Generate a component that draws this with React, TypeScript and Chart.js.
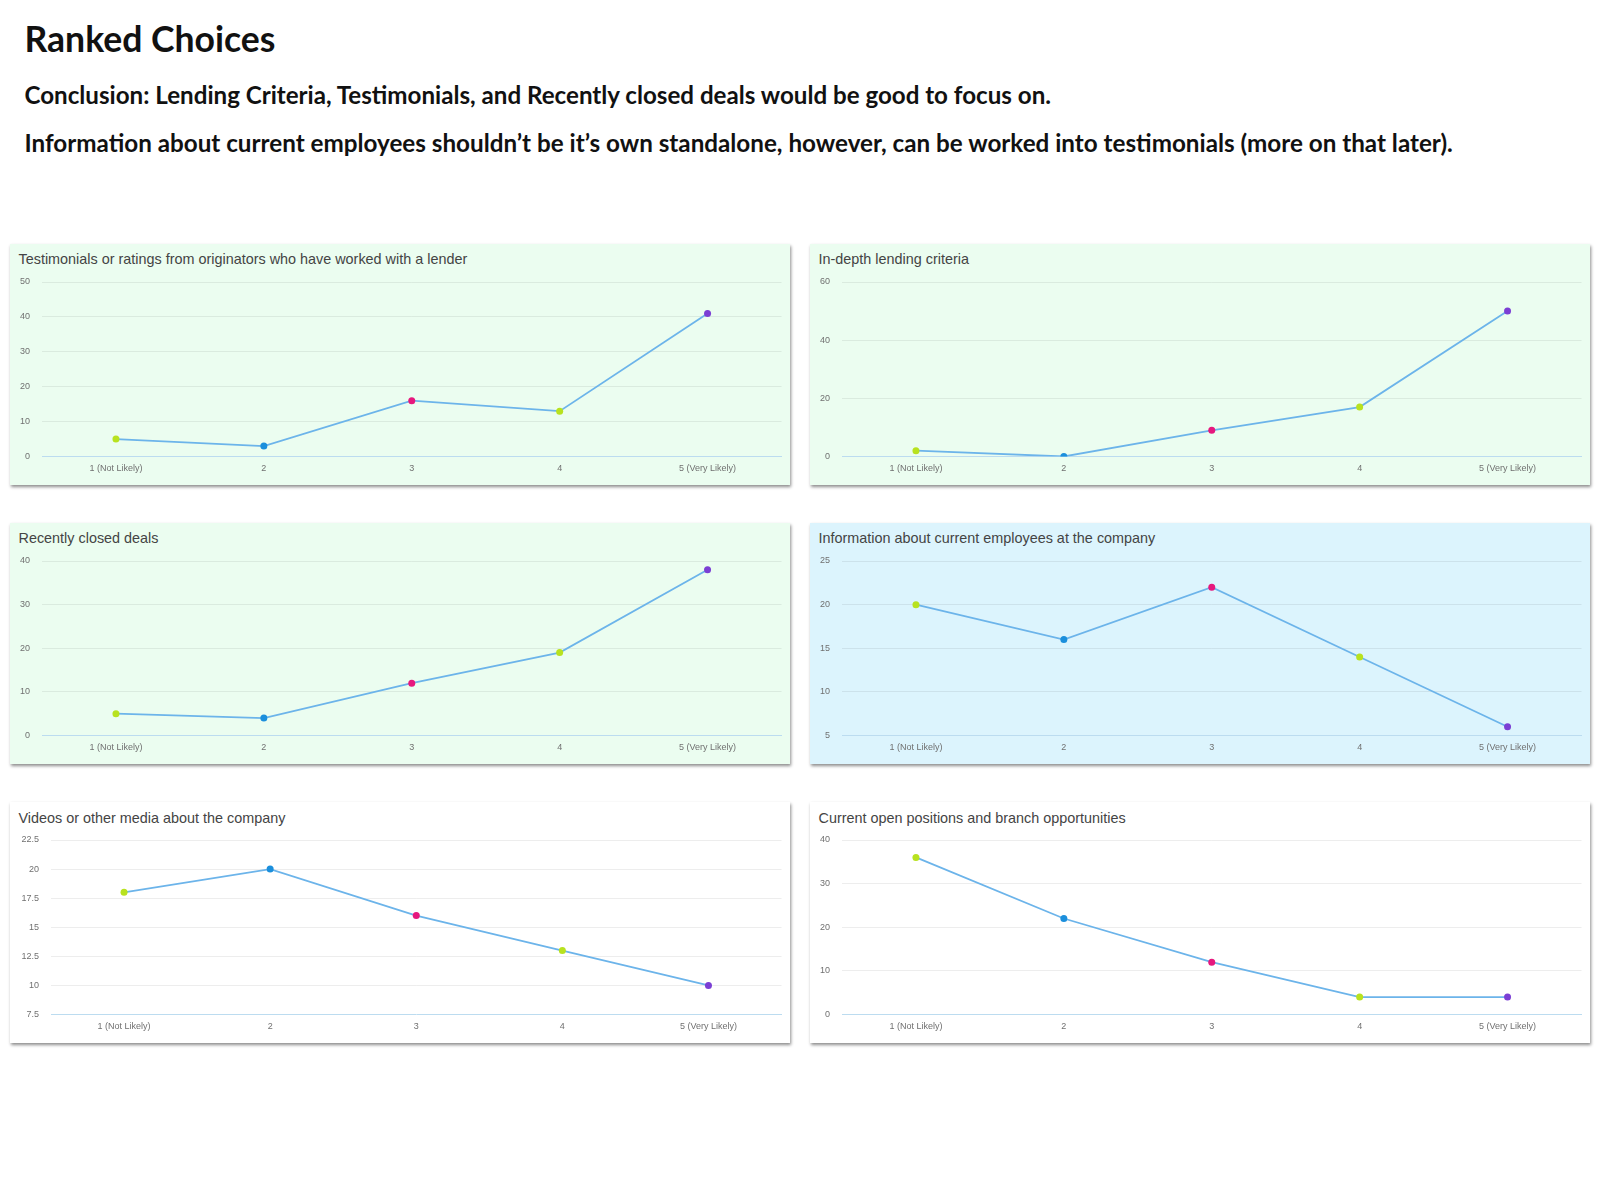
import React, { useEffect, useLayoutEffect, useRef, useState } from "react";
import { Chart, registerables } from "chart.js";

Chart.register(...registerables);

// ---- Data ----
const CATEGORIES = ["1 (Not Likely)", "2", "3", "4", "5 (Very Likely)"];
const POINT_COLORS = ["#b8e21f", "#1b8fdc", "#e6187e", "#b8e21f", "#7b3fd4"];

const PAGE_TITLE = "Ranked Choices";
const CONCLUSION_LINE = "Conclusion: Lending Criteria, Testimonials, and Recently closed deals would be good to focus on.";
const NOTE_LINE = "Information about current employees shouldn’t be it’s own standalone, however, can be worked into testimonials (more on that later).";

const CHART_TITLES = [
  "Testimonials or ratings from originators who have worked with a lender",
  "In-depth lending criteria",
  "Recently closed deals",
  "Information about current employees at the company",
  "Videos or other media about the company",
  "Current open positions and branch opportunities",
];

const testimonialsValues = [5, 3, 16, 13, 41];
const lendingCriteriaValues = [2, 0, 9, 17, 50];
const closedDealsValues = [5, 4, 12, 19, 38];
const employeesValues = [20, 16, 22, 14, 6];
const videosValues = [18, 20, 16, 13, 10];
const openPositionsValues = [36, 22, 12, 4, 4];

const Y_MINS = [0, 0, 0, 5, 7.5, 0];
const Y_MAXS = [50, 60, 40, 25, 22.5, 40];
const Y_STEPS = [10, 20, 10, 5, 2.5, 10];

const SERIES = [
  testimonialsValues,
  lendingCriteriaValues,
  closedDealsValues,
  employeesValues,
  videosValues,
  openPositionsValues,
];

// ---- Styles / layout ----
const GREEN_BG = "#ebfdf0";
const BLUE_BG = "#dcf4fd";
const WHITE_BG = "#ffffff";
const PANEL_BGS = [GREEN_BG, GREEN_BG, GREEN_BG, BLUE_BG, WHITE_BG, WHITE_BG];
const PANEL_LEFTS = [10, 810, 10, 810, 10, 810];
const PANEL_TOPS = [243.5, 243.5, 522.5, 522.5, 802, 802];
const Y_AXIS_WIDTHS = [32, 32, 32, 32, 41, 32];
const PANEL_W = 780;
const PANEL_H = 241;

const HEAD_FONT = "Lato, 'Open Sans', sans-serif";
const CHART_FONT = "'Liberation Sans', Arial, Helvetica, sans-serif";

function FitText(props: { text: string; left: number; baseline: number; width: number; base: number }) {
  const ref = useRef<HTMLSpanElement>(null);
  const [size, setSize] = useState(props.base);
  useLayoutEffect(() => {
    if (!ref.current) return;
    const w = ref.current.getBoundingClientRect().width;
    if (w > 0) setSize((props.base * props.width) / w);
    // eslint-disable-next-line
  }, []);
  return (
    <span
      ref={ref}
      style={{
        position: "absolute",
        left: props.left,
        top: props.baseline - 0.887 * size,
        fontFamily: HEAD_FONT,
        fontWeight: 700,
        fontSize: size,
        lineHeight: 1,
        whiteSpace: "nowrap",
        color: "#111",
      }}
    >
      {props.text}
    </span>
  );
}

function Panel(props: { idx: number }) {
  const { idx } = props;
  const canvasRef = useRef<HTMLCanvasElement>(null);
  useEffect(() => {
    if (!canvasRef.current) return;
    const yMin = Y_MINS[idx];
    const chart = new Chart(canvasRef.current, {
      type: "line",
      data: {
        labels: CATEGORIES,
        datasets: [
          {
            data: SERIES[idx],
            borderColor: "#6cb4ea",
            borderWidth: 1.8,
            tension: 0,
            fill: false,
            pointRadius: 3.5,
            pointHoverRadius: 3.5,
            pointBackgroundColor: POINT_COLORS,
            pointBorderWidth: 0,
          },
        ],
      },
      options: {
        animation: false,
        responsive: false,
        maintainAspectRatio: false,
        devicePixelRatio: 1,
        layout: { padding: { top: 38, right: 8.5, left: 0, bottom: 0 } },
        plugins: { legend: { display: false }, tooltip: { enabled: false }, title: { display: false } },
        scales: {
          x: {
            offset: true,
            grid: { display: false, drawTicks: false },
            border: { display: true, color: "#bcdcf0", width: 1 },
            ticks: {
              padding: 7,
              color: "#707070",
              font: { family: CHART_FONT, size: 9 },
              maxRotation: 0,
              autoSkip: false,
            },
            afterFit: (s: any) => {
              s.height = 28.5;
            },
          },
          y: {
            min: yMin,
            max: Y_MAXS[idx],
            ticks: {
              stepSize: Y_STEPS[idx],
              padding: 12,
              color: "#707070",
              font: { family: CHART_FONT, size: 9 },
              callback: (v: any) => String(v),
            },
            grid: {
              drawTicks: false,
              color: (ctx: any) => (ctx.tick && ctx.tick.value === yMin ? "rgba(0,0,0,0)" : "rgba(0,0,0,0.07)"),
            },
            border: { display: false },
            afterFit: (s: any) => {
              s.width = Y_AXIS_WIDTHS[idx];
            },
          },
        },
      },
    });
    return () => chart.destroy();
  }, [idx]);

  return (
    <div
      style={{
        position: "absolute",
        left: PANEL_LEFTS[idx],
        top: PANEL_TOPS[idx],
        width: PANEL_W,
        height: PANEL_H,
        background: PANEL_BGS[idx],
        boxShadow: "1px 2px 3px rgba(0,0,0,0.45)",
      }}
    >
      <div
        style={{
          position: "absolute",
          left: 8.5,
          top: 8.5,
          fontFamily: CHART_FONT,
          fontSize: 14.4,
          lineHeight: 1,
          color: "#444444",
          whiteSpace: "nowrap",
        }}
      >
        {CHART_TITLES[idx]}
      </div>
      <canvas
        ref={canvasRef}
        width={PANEL_W}
        height={PANEL_H}
        style={{ position: "absolute", left: 0, top: 0, width: PANEL_W, height: PANEL_H }}
      />
    </div>
  );
}

export default function App() {
  return (
    <div style={{ position: "relative", width: 1600, height: 1200, background: "#fff", overflow: "hidden" }}>
      <style>{"body{margin:0;background:#fff;}"}</style>
      <FitText text={PAGE_TITLE} left={24.5} baseline={53} width={251} base={34} />
      <FitText text={CONCLUSION_LINE} left={24.5} baseline={104.5} width={1027} base={21} />
      <FitText text={NOTE_LINE} left={24.5} baseline={152.5} width={1429} base={21} />
      {[0, 1, 2, 3, 4, 5].map((i) => (
        <Panel key={i} idx={i} />
      ))}
    </div>
  );
}
